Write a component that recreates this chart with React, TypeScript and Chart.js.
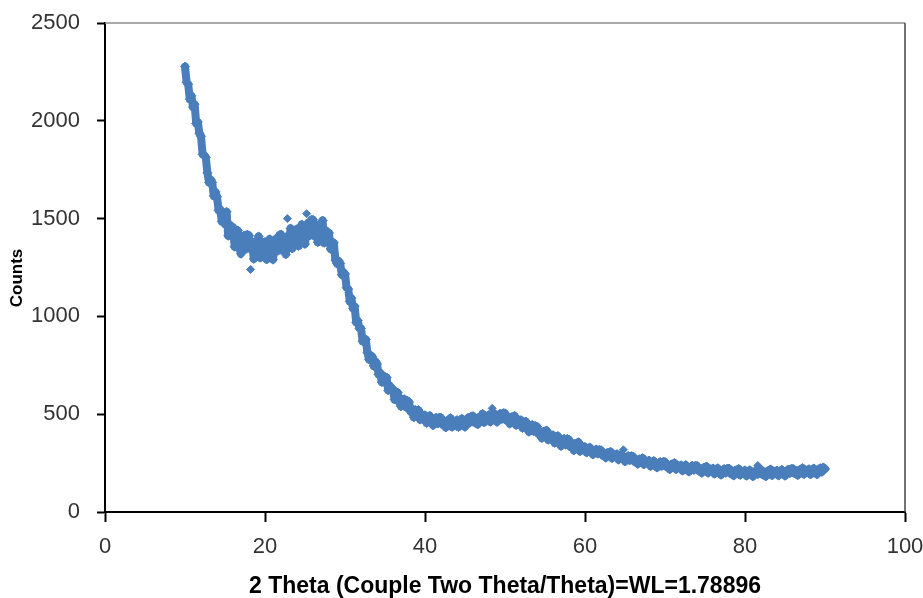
import React, { useEffect, useRef } from "react";
import { Chart, registerables } from "chart.js";

Chart.register(...registerables);

// Scan grid: 2θ from 10° to 90° in 0.2° steps
const twoThetaStart = 10;
const twoThetaStep = 0.2;

// Counts, one row per degree (x.0, x.2, x.4, x.6, x.8)
const counts: number[] = [
  2277, 2197, 2187, 2110, 2128, // 10
  2070, 2085, 1987, 1994, 1936, // 11
  1921, 1828, 1824, 1813, 1734, // 12
  1685, 1700, 1685, 1616, 1637, // 13
  1612, 1542, 1547, 1485, 1523, // 14
  1472, 1535, 1412, 1469, 1424, // 15
  1456, 1356, 1406, 1440, 1349, // 16
  1320, 1393, 1414, 1344, 1418, // 17
  1414, 1345, 1368, 1294, 1382, // 18
  1332, 1409, 1300, 1371, 1340, // 19
  1381, 1291, 1352, 1395, 1312, // 20
  1290, 1371, 1398, 1335, 1416, // 21
  1419, 1339, 1385, 1317, 1410, // 22
  1367, 1450, 1347, 1424, 1399, // 23
  1446, 1360, 1424, 1470, 1390, // 24
  1370, 1440, 1478, 1414, 1494, // 25
  1494, 1410, 1452, 1379, 1468, // 26
  1417, 1490, 1376, 1440, 1402, // 27
  1427, 1345, 1370, 1376, 1288, // 28
  1270, 1284, 1271, 1213, 1227, // 29
  1217, 1147, 1140, 1076, 1093, // 30
  1041, 1052, 970, 978, 939,    // 31
  938, 873, 883, 882, 816,      // 32
  780, 801, 795, 746, 771,      // 33
  757, 703, 712, 664, 697,      // 34
  661, 688, 622, 646, 619,      // 35
  628, 575, 597, 610, 560,      // 36
  540, 572, 577, 537, 569,      // 37
  562, 513, 527, 484, 522,      // 38
  492, 521, 472, 498, 481,      // 39
  495, 455, 478, 492, 455,      // 40
  443, 474, 482, 452, 483,      // 41
  482, 447, 463, 432, 468,      // 42
  447, 480, 435, 465, 452,      // 43
  470, 434, 459, 477, 443,      // 44
  435, 470, 482, 456, 489,      // 45
  490, 458, 477, 448, 486,      // 46
  467, 502, 458, 489, 477,      // 47
  497, 461, 487, 505, 470,      // 48
  460, 493, 503, 475, 506,      // 49
  505, 469, 484, 451, 485,      // 50
  462, 492, 444, 471, 455,      // 51
  470, 429, 450, 463, 424,      // 52
  410, 439, 445, 413, 441,      // 53
  437, 399, 412, 378, 411,      // 54
  387, 417, 369, 396, 380,      // 55
  393, 353, 375, 389, 351,      // 56
  337, 367, 374, 344, 374,      // 57
  370, 333, 348, 315, 350,      // 58
  327, 357, 310, 337, 322,      // 59
  333, 304, 320, 330, 303,      // 60
  294, 315, 320, 298, 318,      // 61
  316, 289, 301, 277, 303,      // 62
  287, 308, 275, 295, 284,      // 63
  296, 267, 283, 294, 275,      // 64
  258, 279, 286, 264, 286,      // 65
  284, 257, 269, 245, 270,      // 66
  255, 276, 243, 262, 251,      // 67
  263, 234, 251, 261, 235,      // 68
  227, 249, 256, 235, 257,      // 69
  256, 230, 241, 218, 244,      // 70
  229, 251, 218, 238, 228,      // 71
  239, 211, 228, 240, 214,      // 72
  206, 228, 236, 215, 237,      // 73
  236, 210, 222, 200, 226,      // 74
  211, 233, 200, 221, 211,      // 75
  223, 195, 212, 224, 198,      // 76
  190, 213, 220, 200, 222,      // 77
  222, 196, 209, 186, 213,      // 78
  199, 221, 189, 209, 200,      // 79
  213, 185, 203, 214, 189,      // 80
  182, 205, 213, 193, 216,      // 81
  216, 191, 204, 182, 209,      // 82
  195, 218, 187, 208, 199,      // 83
  212, 186, 204, 216, 192,      // 84
  185, 209, 217, 198, 221,      // 85
  221, 197, 210, 188, 215,      // 86
  201, 225, 193, 214, 206,      // 87
  219, 192, 211, 223, 199,      // 88
  192, 216, 224, 205, 228,      // 89
  220,                          // 90
];

// Isolated points lying off the main band
const strayTheta = [18.2, 22.8, 25.2, 48.4, 64.8, 81.6];
const strayCounts = [1240, 1500, 1525, 530, 318, 238];

const xTicks = [0, 20, 40, 60, 80, 100];
const yTicks = [0, 500, 1000, 1500, 2000, 2500];

const xTitle = "2 Theta (Couple Two Theta/Theta)=WL=1.78896";
const yTitle = "Counts";

const FONT = "'Liberation Sans', Arial, sans-serif";
const BLUE = "#4a7ebb";

const framePlugin = {
  id: "framePlugin",
  afterDatasetsDraw(chart: any) {
    const { ctx, chartArea } = chart;
    ctx.save();
    ctx.lineWidth = 1.5;
    ctx.strokeStyle = "#8c8c8c";
    ctx.beginPath();
    ctx.moveTo(chartArea.left, chartArea.top);
    ctx.lineTo(chartArea.right, chartArea.top);
    ctx.stroke();
    ctx.strokeStyle = "#444";
    ctx.beginPath();
    ctx.moveTo(chartArea.right, chartArea.top);
    ctx.lineTo(chartArea.right, chartArea.bottom);
    ctx.stroke();
    ctx.restore();
  },
  afterDraw(chart: any) {
    const { ctx } = chart;
    ctx.save();
    ctx.translate(17, 278);
    ctx.rotate(-Math.PI / 2);
    ctx.font = `bold 17px ${FONT}`;
    ctx.fillStyle = "#000";
    ctx.textAlign = "center";
    ctx.textBaseline = "middle";
    ctx.fillText(yTitle, 0, 0);
    ctx.restore();
  },
};

export default function App() {
  const ref = useRef<HTMLCanvasElement | null>(null);

  useEffect(() => {
    if (!ref.current) return;
    const points = counts.map((c, i) => ({ x: twoThetaStart + i * twoThetaStep, y: c }));
    const strays = strayCounts.map((c, i) => ({ x: strayTheta[i], y: c }));
    const chart = new Chart(ref.current, {
      type: "scatter",
      data: {
        datasets: [
          {
            label: yTitle,
            data: points,
            showLine: true,
            borderWidth: 8,
            borderJoinStyle: "round",
            borderCapStyle: "round",
            tension: 0,
            pointStyle: "rectRot",
            pointRadius: 4.5,
            pointBorderWidth: 1,
            pointBackgroundColor: BLUE,
            pointBorderColor: BLUE,
            backgroundColor: BLUE,
            borderColor: BLUE,
          },
          {
            label: "stray",
            data: strays,
            pointStyle: "rectRot",
            pointRadius: 4,
            pointBorderWidth: 1,
            backgroundColor: BLUE,
            borderColor: BLUE,
          },
        ],
      },
      options: {
        responsive: false,
        animation: false,
        layout: { padding: { left: 0, right: 18, top: 23, bottom: 0 } },
        plugins: {
          legend: { display: false },
          tooltip: { enabled: false },
        },
        scales: {
          x: {
            type: "linear",
            min: 0,
            max: 100,
            afterFit: (s: any) => {
              s.height = 86;
              s.paddingLeft = 0;
              s.paddingRight = 0;
            },
            afterBuildTicks: (s: any) => {
              s.ticks = xTicks.map((v) => ({ value: v }));
            },
            ticks: {
              color: "#333",
              padding: 12,
              callback: (v: any) => String(v),
              font: { family: FONT, size: 22 },
            },
            grid: {
              drawOnChartArea: false,
              drawTicks: true,
              tickLength: 10,
              tickWidth: 2,
              tickColor: "#000",
            },
            border: { display: true, color: "#000", width: 2 },
            title: {
              display: true,
              text: xTitle,
              color: "#000",
              padding: { top: 0, bottom: 0 },
              font: { family: FONT, size: 23, weight: "bold", lineHeight: 1 },
            },
          },
          y: {
            type: "linear",
            min: 0,
            max: 2500,
            afterFit: (s: any) => {
              s.width = 105;
              s.paddingTop = 0;
              s.paddingBottom = 0;
            },
            afterBuildTicks: (s: any) => {
              s.ticks = yTicks.map((v) => ({ value: v }));
            },
            ticks: {
              color: "#333",
              padding: 17,
              callback: (v: any) => String(v),
              font: { family: FONT, size: 22 },
            },
            grid: {
              drawOnChartArea: false,
              drawTicks: true,
              tickLength: 8,
              tickWidth: 2,
              tickColor: "#000",
            },
            border: { display: true, color: "#000", width: 2 },
            title: { display: false },
          },
        },
      },
      plugins: [framePlugin],
    });
    return () => chart.destroy();
  }, []);

  return (
    <div style={{ position: "fixed", left: 0, top: 0, width: 923, height: 598, background: "#fff" }}>
      <canvas ref={ref} width={923} height={598} style={{ display: "block" }} />
    </div>
  );
}
